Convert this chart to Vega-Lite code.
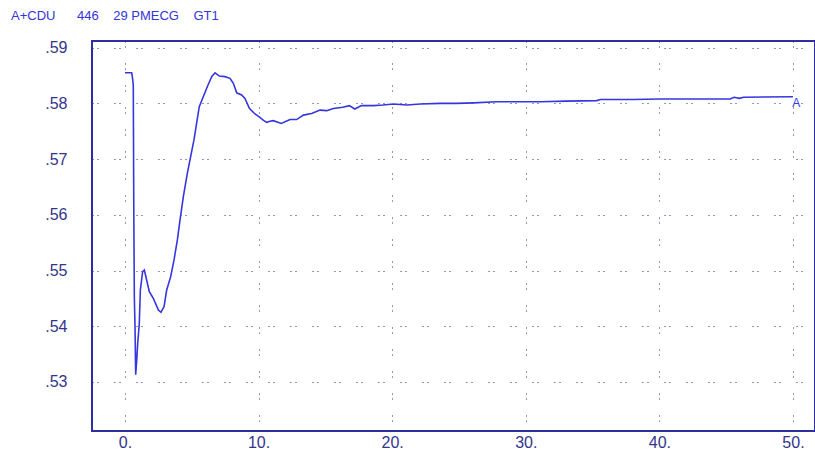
{
  "$schema": "https://vega.github.io/schema/vega-lite/v6.json",
  "width": 723,
  "height": 390,
  "autosize": {"type": "none"},
  "padding": {"left": 92, "top": 41, "right": 0, "bottom": 23},
  "background": "white",
  "title": {
    "text": "A+CDU\u00a0\u00a0\u00a0\u00a0\u00a0\u00a0446\u00a0\u00a0\u00a0\u00a029 PMECG\u00a0\u00a0\u00a0\u00a0GT1",
    "anchor": "start",
    "frame": "group",
    "dx": -81,
    "offset": 17,
    "fontSize": 13,
    "fontWeight": "normal",
    "font": "Liberation Sans",
    "color": "#3434d8"
  },
  "config": {
    "view": {"stroke": "#2e2ea0", "strokeWidth": 2},
    "axis": {
      "domain": false,
      "ticks": false,
      "grid": true,
      "gridColor": "#2a2a80",
      "gridOpacity": 1,
      "gridWidth": 1,
      "gridDash": [1, 4, 1, 16],
      "labelFont": "Liberation Sans",
      "labelColor": "#34348c",
      "title": null
    }
  },
  "data": {
    "values": [
      {"t": 0, "v": 0.5855},
      {"t": 0.5, "v": 0.5855},
      {"t": 0.55, "v": 0.5848},
      {"t": 0.62, "v": 0.5833},
      {"t": 0.66, "v": 0.5600},
      {"t": 0.7, "v": 0.5451},
      {"t": 0.75, "v": 0.54},
      {"t": 0.8, "v": 0.5313},
      {"t": 0.88, "v": 0.534},
      {"t": 0.95, "v": 0.5369},
      {"t": 1.07, "v": 0.5405},
      {"t": 1.15, "v": 0.5465},
      {"t": 1.32, "v": 0.5498},
      {"t": 1.45, "v": 0.5501},
      {"t": 1.62, "v": 0.5483},
      {"t": 1.82, "v": 0.5462},
      {"t": 2.12, "v": 0.545},
      {"t": 2.5, "v": 0.5429},
      {"t": 2.69, "v": 0.5425},
      {"t": 2.92, "v": 0.5435},
      {"t": 3.12, "v": 0.5465},
      {"t": 3.42, "v": 0.5489},
      {"t": 3.67, "v": 0.5519},
      {"t": 3.92, "v": 0.5555},
      {"t": 4.12, "v": 0.5591},
      {"t": 4.37, "v": 0.5633},
      {"t": 4.67, "v": 0.5675},
      {"t": 4.91, "v": 0.5704},
      {"t": 5.16, "v": 0.5734},
      {"t": 5.36, "v": 0.5764},
      {"t": 5.56, "v": 0.5794},
      {"t": 5.86, "v": 0.5812},
      {"t": 6.16, "v": 0.583},
      {"t": 6.49, "v": 0.5848},
      {"t": 6.74, "v": 0.5855},
      {"t": 7.06, "v": 0.5849},
      {"t": 7.48, "v": 0.5848},
      {"t": 7.86, "v": 0.5845},
      {"t": 8.11, "v": 0.5836},
      {"t": 8.36, "v": 0.5819},
      {"t": 8.73, "v": 0.5815},
      {"t": 8.98, "v": 0.5809},
      {"t": 9.31, "v": 0.5791},
      {"t": 9.73, "v": 0.5781},
      {"t": 10.05, "v": 0.5776},
      {"t": 10.35, "v": 0.577},
      {"t": 10.6, "v": 0.5766},
      {"t": 10.85, "v": 0.5768},
      {"t": 11.1, "v": 0.5769},
      {"t": 11.7, "v": 0.5764},
      {"t": 12.35, "v": 0.5771},
      {"t": 12.85, "v": 0.5771},
      {"t": 13.35, "v": 0.5779},
      {"t": 13.97, "v": 0.5782},
      {"t": 14.6, "v": 0.5788},
      {"t": 15.1, "v": 0.5787},
      {"t": 15.6, "v": 0.5791},
      {"t": 16.3, "v": 0.5793},
      {"t": 16.8, "v": 0.5796},
      {"t": 17.2, "v": 0.579},
      {"t": 17.7, "v": 0.5796},
      {"t": 18.6, "v": 0.5796},
      {"t": 19.3, "v": 0.5797},
      {"t": 20.1, "v": 0.5799},
      {"t": 21.1, "v": 0.5797},
      {"t": 22.1, "v": 0.5799},
      {"t": 23.6, "v": 0.58},
      {"t": 24.8, "v": 0.58},
      {"t": 26.1, "v": 0.5801},
      {"t": 27.8, "v": 0.5803},
      {"t": 29.8, "v": 0.5803},
      {"t": 31.1, "v": 0.5803},
      {"t": 33.0, "v": 0.5804},
      {"t": 35.3, "v": 0.5805},
      {"t": 35.6, "v": 0.5807},
      {"t": 38.0, "v": 0.5807},
      {"t": 40.0, "v": 0.5808},
      {"t": 42.0, "v": 0.5808},
      {"t": 45.3, "v": 0.5808},
      {"t": 45.6, "v": 0.5811},
      {"t": 46.0, "v": 0.5809},
      {"t": 46.3, "v": 0.5811},
      {"t": 50.0, "v": 0.5812}
    ]
  },
  "encoding": {
    "x": {
      "field": "t",
      "type": "quantitative",
      "scale": {"domain": [-2.47, 51.65], "nice": false, "zero": false},
      "axis": {
        "values": [0, 10, 20, 30, 40, 50],
        "labelExpr": "datum.value + '.'",
        "labelFontSize": 16,
        "labelPadding": 3,
        "labelDx": 5
      }
    },
    "y": {
      "field": "v",
      "type": "quantitative",
      "scale": {"domain": [0.5212, 0.5912], "nice": false, "zero": false},
      "axis": {
        "values": [0.53, 0.54, 0.55, 0.56, 0.57, 0.58, 0.59],
        "labelExpr": "replace(format(datum.value, '.2f'), '0.', '.')",
        "labelFontSize": 16,
        "labelPadding": 25
      }
    }
  },
  "layer": [
    {
      "mark": {"type": "line", "color": "#3636e0", "strokeWidth": 1.6, "interpolate": "linear"}
    },
    {
      "data": {"values": [{"t": 50.25, "v": 0.5801, "label": "A"}]},
      "mark": {"type": "text", "color": "#3636e0", "fontSize": 12, "font": "Liberation Sans", "align": "center", "baseline": "middle"},
      "encoding": {"text": {"field": "label"}}
    }
  ]
}
